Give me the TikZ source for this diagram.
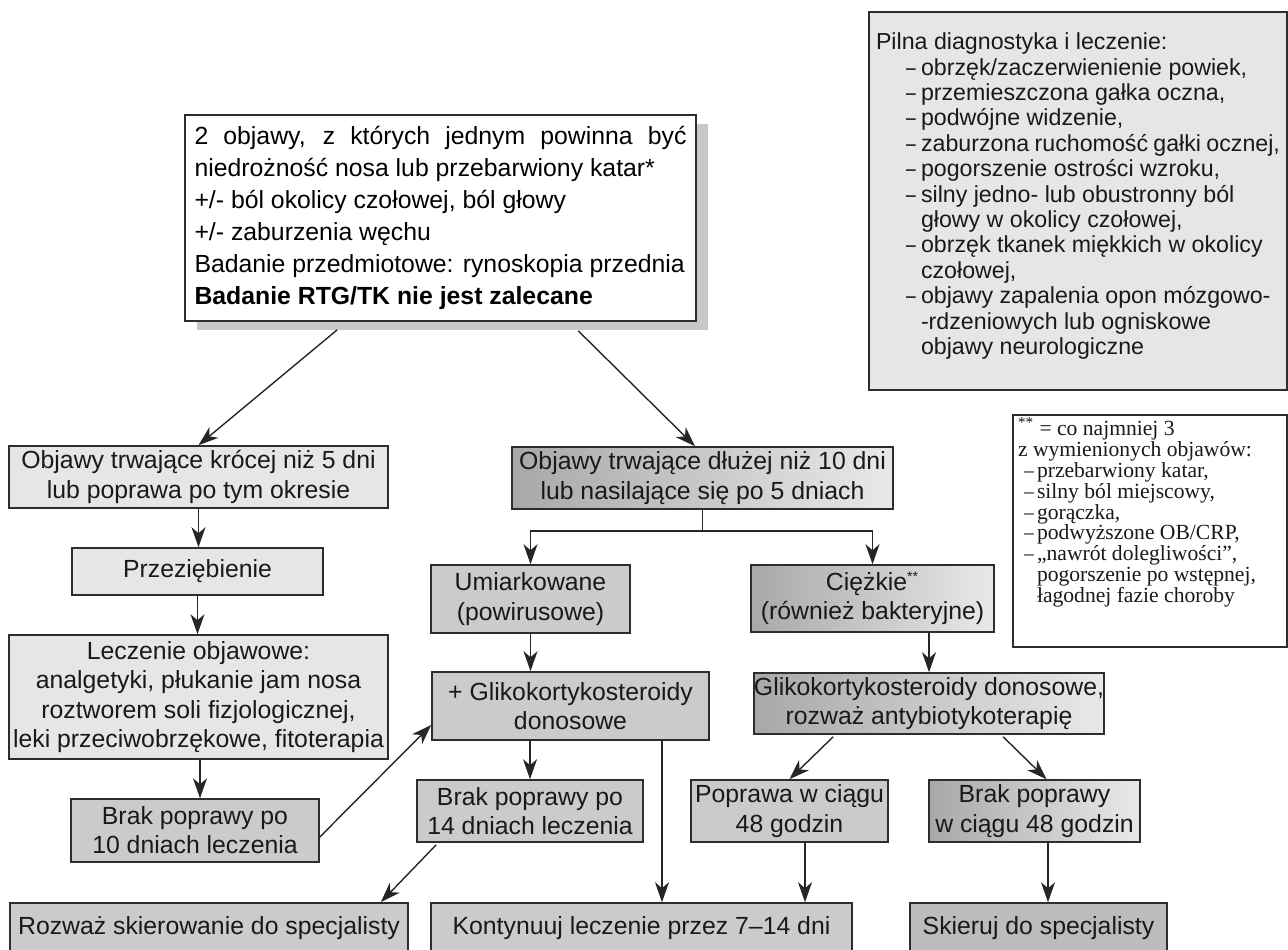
\documentclass[tikz,border=0pt]{standalone}
\usepackage{fontspec}
\setmainfont{Liberation Sans}
\newfontfamily\notefont{Liberation Serif}
\usetikzlibrary{arrows.meta,shadows}
\setlength{\parindent}{0pt}
\definecolor{lightfill}{RGB}{230,230,230}
\definecolor{midfill}{RGB}{203,203,203}
\definecolor{darkfill}{RGB}{188,188,188}
\definecolor{gradleft}{RGB}{168,168,168}
\definecolor{gradright}{RGB}{233,233,233}
\definecolor{edgecol}{RGB}{45,45,45}
\definecolor{shadowcol}{RGB}{200,200,200}
\newcommand{\plitem}[1]{\hspace*{15pt}\makebox[7.5pt][l]{\scalebox{0.75}[1]{–}}#1}
\newcommand{\plcont}[1]{\hspace*{22.5pt}#1}
\newcommand{\ftitem}[1]{\hspace*{3pt}\makebox[6.5pt][l]{\scalebox{0.9}[1]{–}}#1}
\newcommand{\ftcont}[1]{\hspace*{9.5pt}#1}
\begin{document}
\begin{tikzpicture}[x=0.5pt,y=-0.5pt,
  box/.style={draw=edgecol, line width=0.8pt, inner sep=0pt, align=center,
    font=\fontsize{12.4}{14.6}\selectfont, text=black!90},
  lightbox/.style={box, fill=lightfill},
  midbox/.style={box, fill=midfill},
  darkbox/.style={box, fill=darkfill},
  gradbox/.style={box, left color=gradleft, right color=gradright},
  arr/.style={draw=black!85, line width=0.7pt, -{Stealth[length=10pt,width=7pt,inset=3pt]}},
  ln/.style={draw=black!85, line width=0.7pt}
]
\useasboundingbox (0,0) rectangle (1288,949);

% top box
\node[draw=edgecol, line width=0.8pt, fill=white, inner sep=0pt,
  minimum width=255.5pt, minimum height=103pt,
  drop shadow={shadow xshift=6pt, shadow yshift=-4.5pt, fill=shadowcol, opacity=1, draw=none}]
  (top) at (440.5,218) {\begin{minipage}{246pt}\fontsize{12.4}{16}\selectfont
\makebox[\linewidth][s]{2 objawy, z których jednym powinna być}\\
niedrożność nosa lub przebarwiony katar*\\
+/- ból okolicy czołowej, ból głowy\\
+/- zaburzenia węchu\\
Badanie przedmiotowe: rynoskopia przednia\\
\textbf{Badanie RTG/TK nie jest zalecane}
\end{minipage}};

% urgent box
\node[box, fill=lightfill, minimum width=209pt, minimum height=189pt]
  (pilna) at (1078,201) {\begin{minipage}{202pt}\fontsize{11.6}{12.7}\selectfont
Pilna diagnostyka i leczenie:\\
\plitem{obrzęk/zaczerwienienie powiek,}\\
\plitem{przemieszczona gałka oczna,}\\
\plitem{podwójne widzenie,}\\
\plitem{zaburzona ruchomość gałki ocznej,}\\
\plitem{pogorszenie ostrości wzroku,}\\
\plitem{silny jedno- lub obustronny ból}\\
\plcont{głowy w okolicy czołowej,}\\
\plitem{obrzęk tkanek miękkich w okolicy}\\
\plcont{czołowej,}\\
\plitem{objawy zapalenia opon mózgowo-}\\
\plcont{-rdzeniowych lub ogniskowe}\\
\plcont{objawy neurologiczne}\par\vspace{5pt}
\end{minipage}};

% footnote box
\node[box, fill=white, minimum width=137pt, minimum height=116pt]
  (note) at (1150,531) {\begin{minipage}[c][116pt][t]{132pt}\notefont\fontsize{10.8}{10.4}\selectfont
\vspace*{1.5pt}
\textsuperscript{**} = co najmniej 3\\
z wymienionych objawów:\\
\ftitem{przebarwiony katar,}\\
\ftitem{silny ból miejscowy,}\\
\ftitem{gorączka,}\\
\ftitem{podwyższone OB/CRP,}\\
\ftitem{„nawrót dolegliwości”,}\\
\ftcont{pogorszenie po wstępnej,}\\
\ftcont{łagodnej fazie choroby}
\end{minipage}};

% left column
\node[lightbox, minimum width=189.5pt, minimum height=31pt] (kr) at (198.5,477)
  {Objawy trwające krócej niż 5 dni\\lub poprawa po tym okresie};
\node[lightbox, minimum width=125.5pt, minimum height=23.5pt] (prz) at (197.5,571.5)
  {Przeziębienie};
\node[lightbox, minimum width=189.5pt, minimum height=62pt] (lecz) at (198.5,697)
  {Leczenie objawowe:\\analgetyki, płukanie jam nosa\\roztworem soli fizjologicznej,\\leki przeciwobrzękowe, fitoterapia};
\node[midbox, minimum width=124pt, minimum height=31.5pt] (b10) at (195,830.5)
  {Brak poprawy po\\10 dniach leczenia};

% middle / right
\node[gradbox, minimum width=190.5pt, minimum height=31pt] (dl) at (702.5,478)
  {Objawy trwające dłużej niż 10 dni\\lub nasilające się po 5 dniach};
\node[midbox, minimum width=99.5pt, minimum height=34pt] (um) at (530.5,599)
  {Umiarkowane\\(powirusowe)};
\node[gradbox, minimum width=121.5pt, minimum height=33.5pt] (cz) at (872.5,598.5)
  {Ciężkie\textsuperscript{\scriptsize **}\\(również bakteryjne)};
\node[midbox, minimum width=138.5pt, minimum height=34pt] (gl1) at (570.5,706)
  {+ Glikokortykosteroidy\\donosowe};
\node[gradbox, minimum width=175pt, minimum height=30.5pt] (gl2) at (929,703.5)
  {Glikokortykosteroidy donosowe,\\rozważ antybiotykoterapię};
\node[midbox, minimum width=113pt, minimum height=31pt] (b14) at (530,811)
  {Brak poprawy po\\14 dniach leczenia};
\node[midbox, minimum width=98.5pt, minimum height=31pt] (pop) at (789.5,811)
  {Poprawa w ciągu\\48 godzin};
\node[gradbox, minimum width=105.5pt, minimum height=31pt] (b48) at (1034.5,811)
  {Brak poprawy\\w ciągu 48 godzin};

% bottom row
\node[midbox, minimum width=199pt, minimum height=25pt] (roz) at (209,928)
  {Rozważ skierowanie do specjalisty};
\node[midbox, minimum width=210.5pt, minimum height=25pt] (kon) at (641.5,928)
  {Kontynuuj leczenie przez 7–14 dni};
\node[darkbox, minimum width=128.5pt, minimum height=25pt] (sk) at (1038.5,928)
  {Skieruj do specjalisty};

% connectors
\draw[arr] ([shift={(153,8)}]top.south west) -- (kr.north);
\draw[arr] ([shift={(394,9)}]top.south west) -- ([xshift=-3.75pt]dl.north);
\draw[arr] (kr.south) -- (kr.south |- prz.north);
\draw[arr] (prz.south) -- (prz.south |- lecz.north);
\draw[arr] ([xshift=0.75pt]lecz.south) -- ([xshift=0.75pt]lecz.south |- b10.north);
\draw[arr] ([yshift=-3.25pt]b10.east) -- ([yshift=-9.5pt]gl1.west);
\draw[ln] (dl.south) -- ++(0,21) coordinate (br);
\draw[arr] (br) -| (um.north);
\draw[arr] (br) -| (cz.north);
\draw[arr] (um.south) -- (um.south |- gl1.north);
\draw[arr] (gl1.south -| b14.north) -- (b14.north);
\draw[arr] ([xshift=45.75pt]gl1.south) -- ([xshift=45.75pt]gl1.south |- kon.north);
\draw[arr] ([shift={(20,2)}]b14.south west) -- ([xshift=-14pt]roz.north east);
\draw[arr] (gl2.north |- cz.south) -- (gl2.north);
\draw[arr] ([shift={(80,2)}]gl2.south west) -- (pop.north);
\draw[arr] ([shift={(250,2)}]gl2.south west) -- ([xshift=6pt]b48.north);
\draw[arr] ([xshift=7.75pt]pop.south) -- ([xshift=7.75pt]pop.south |- kon.north);
\draw[arr] ([xshift=6.75pt]b48.south) -- ([xshift=6.75pt]b48.south |- sk.north);
\end{tikzpicture}
\end{document}
